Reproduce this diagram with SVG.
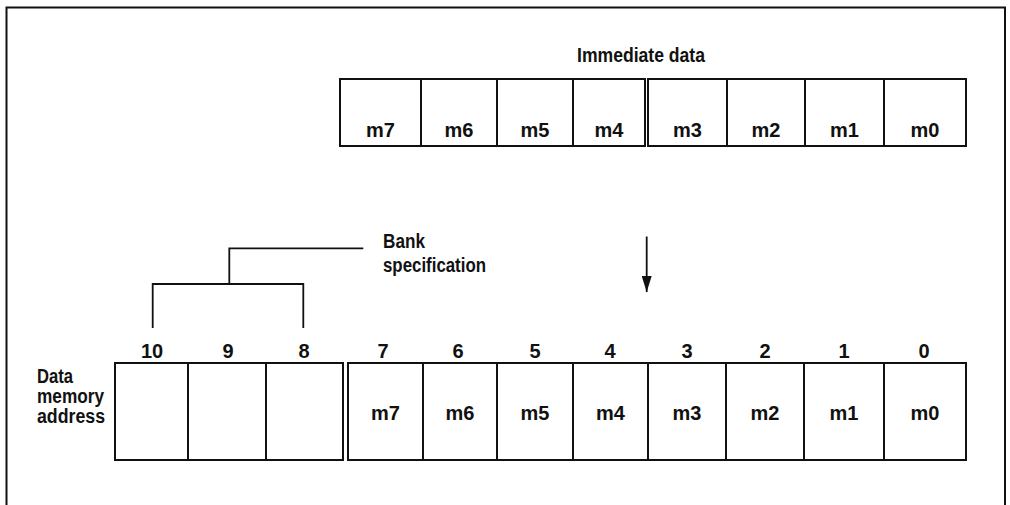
<svg xmlns="http://www.w3.org/2000/svg" width="1010" height="505" viewBox="0 0 1010 505">
<defs>
<style>
.bg{fill:#fff}
.frame{fill:none;stroke:#111;stroke-width:2}
.cell{fill:#fff;stroke:#111;stroke-width:2}
.line{fill:none;stroke:#111;stroke-width:1.8}
text{font-family:"Liberation Sans",Arial,sans-serif;font-weight:bold;font-size:20px;fill:#111}
.c{text-anchor:middle}
</style>
<marker id="ah" viewBox="0 0 16 10" refX="16" refY="5" markerWidth="16" markerHeight="10" markerUnits="userSpaceOnUse" orient="auto">
<path d="M0,0 L16,5 L0,10 Z" fill="#111"/>
</marker>
</defs>
<rect class="bg" x="0" y="0" width="1010" height="505"/>
<path class="frame" d="M6.5,505 V7.5 H1005 V505"/>

<g id="label-immediate">
<text x="577" y="61.5" textLength="128" lengthAdjust="spacingAndGlyphs">Immediate data</text>
</g>

<g id="immediate-high">
<rect class="cell" x="340" y="79" width="81" height="67"/>
<rect class="cell" x="421" y="79" width="76" height="67"/>
<rect class="cell" x="497" y="79" width="76" height="67"/>
<rect class="cell" x="573" y="79" width="72" height="67"/>
<text class="c" x="380.5" y="137">m7</text>
<text class="c" x="459" y="137">m6</text>
<text class="c" x="535" y="137">m5</text>
<text class="c" x="609" y="137">m4</text>
</g>
<g id="immediate-low">
<rect class="cell" x="648" y="79" width="79" height="67"/>
<rect class="cell" x="727" y="79" width="78" height="67"/>
<rect class="cell" x="805" y="79" width="79" height="67"/>
<rect class="cell" x="884" y="79" width="82" height="67"/>
<text class="c" x="687.5" y="137">m3</text>
<text class="c" x="766" y="137">m2</text>
<text class="c" x="844.5" y="137">m1</text>
<text class="c" x="925" y="137">m0</text>
</g>

<g id="label-bank">
<text x="383" y="248" textLength="42" lengthAdjust="spacingAndGlyphs">Bank</text>
<text x="383" y="272" textLength="103" lengthAdjust="spacingAndGlyphs">specification</text>
</g>

<g id="label-address">
<text x="37" y="383" textLength="36" lengthAdjust="spacingAndGlyphs">Data</text>
<text x="37" y="403" textLength="67" lengthAdjust="spacingAndGlyphs">memory</text>
<text x="37" y="423" textLength="68" lengthAdjust="spacingAndGlyphs">address</text>
</g>

<g id="bit-numbers">
<text class="c" x="152" y="358">10</text>
<text class="c" x="228" y="358">9</text>
<text class="c" x="304" y="358">8</text>
<text class="c" x="383" y="358">7</text>
<text class="c" x="458" y="358">6</text>
<text class="c" x="535" y="358">5</text>
<text class="c" x="610" y="358">4</text>
<text class="c" x="687" y="358">3</text>
<text class="c" x="765" y="358">2</text>
<text class="c" x="844" y="358">1</text>
<text class="c" x="924" y="358">0</text>
</g>

<g id="bank-bits">
<rect class="cell" x="115" y="363" width="73" height="97"/>
<rect class="cell" x="188" y="363" width="78" height="97"/>
<rect class="cell" x="266" y="363" width="77" height="97"/>
</g>

<g id="data-bits">
<rect class="cell" x="348" y="363" width="75" height="97"/>
<rect class="cell" x="423" y="363" width="74" height="97"/>
<rect class="cell" x="497" y="363" width="76" height="97"/>
<rect class="cell" x="573" y="363" width="75" height="97"/>
<rect class="cell" x="648" y="363" width="78" height="97"/>
<rect class="cell" x="726" y="363" width="78" height="97"/>
<rect class="cell" x="804" y="363" width="80" height="97"/>
<rect class="cell" x="884" y="363" width="82" height="97"/>
<text class="c" x="385.5" y="420">m7</text>
<text class="c" x="460" y="420">m6</text>
<text class="c" x="535" y="420">m5</text>
<text class="c" x="610.5" y="420">m4</text>
<text class="c" x="687" y="420">m3</text>
<text class="c" x="765" y="420">m2</text>
<text class="c" x="844" y="420">m1</text>
<text class="c" x="925" y="420">m0</text>
</g>

<g id="connectors">
<path class="line" d="M152.7,328 V284 H303.3 V328"/>
<path class="line" d="M229.3,284 V248.3 H363.3"/>
<line class="line" x1="646.7" y1="236.5" x2="646.7" y2="292" marker-end="url(#ah)"/>
</g>
</svg>
